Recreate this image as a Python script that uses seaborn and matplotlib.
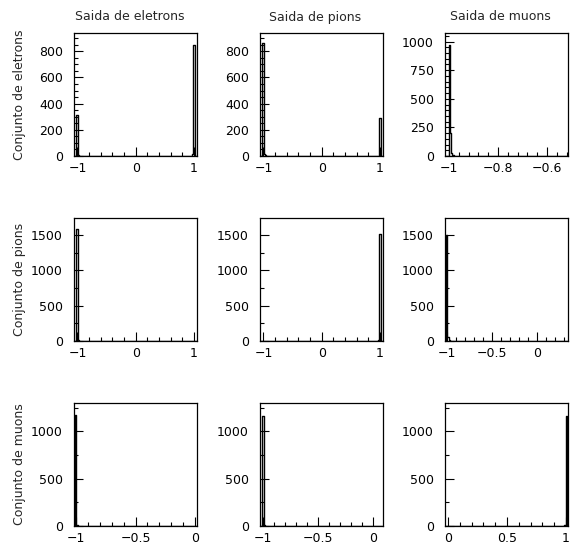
import numpy as np
import pandas as pd
import matplotlib
matplotlib.use("Agg")
import matplotlib.pyplot as plt
from matplotlib.ticker import MultipleLocator
import seaborn as sns

# ---------------- data ----------------
col_titles = ["Saida de eletrons", "Saida de pions", "Saida de muons"]
row_labels = ["Conjunto de eletrons", "Conjunto de pions", "Conjunto de muons"]

# network output values (bin positions) and entries per bin for each panel
ee_x = [-1.0, -0.98, 0.975, 1.0]
ee_n = [310, 8, 15, 845]
ep_x = [-1.0, -0.978, -0.957, 1.0]
ep_n = [860, 15, 5, 290]
em_x = [-1.0, -0.994, -0.989, -0.984, -0.979]
em_n = [970, 200, 25, 8, 3]

pe_x = [-1.0, -0.978]
pe_n = [1580, 15]
pp_x = [0.978, 1.0]
pp_n = [15, 1510]
pm_x = [-1.0, -0.987, -0.973, -0.96]
pm_n = [1500, 60, 15, 5]

me_x = [-1.0, -0.99]
me_n = [1170, 15]
mp_x = [-1.0, -0.99]
mp_n = [1160, 15]
mm_x = [0.99, 1.0]
mm_n = [10, 1160]

panel_x = [[ee_x, ep_x, em_x], [pe_x, pp_x, pm_x], [me_x, mp_x, mm_x]]
panel_n = [[ee_n, ep_n, em_n], [pe_n, pp_n, pm_n], [me_n, mp_n, mm_n]]

# histogram ranges (100 bins each)
x_ranges = [[(-1.06, 1.05), (-1.06, 1.05), (-1.016, -0.514)],
            [(-1.06, 1.05), (-1.06, 1.05), (-1.022, 0.344)],
            [(-1.017, 0.017), (-1.027, 0.09), (-0.025, 1.017)]]
y_max = [[940, 940, 1075], [1740, 1740, 1740], [1300, 1300, 1300]]
x_major = [[1.0, 1.0, 0.2], [1.0, 1.0, 0.5], [0.5, 0.5, 0.5]]
y_major = [[200, 200, 250], [500, 500, 500], [500, 500, 500]]
y_minor = [[50, 50, 50], [250, 250, 250], [250, 250, 250]]

# ---------------- style ----------------
sns.set_style("white")
plt.rcParams["font.family"] = ["DejaVu Sans"]
plt.rcParams["axes.linewidth"] = 0.9

fig = plt.figure(figsize=(5.71, 5.46), dpi=100)
W, H = 571.0, 546.0
lefts = [74, 260, 445]
tops = [33, 218, 403]
aw, ah = 123, 123

def fmt(v):
    if abs(v - round(v)) < 1e-9:
        s = str(int(round(v)))
    else:
        s = ("%.1f" % v)
    if s in ("-0", "-0.0"):
        s = "0"
    return s.replace("-", "\u2212")

for r in range(3):
    for c in range(3):
        x0, x1 = x_ranges[r][c]
        ax = fig.add_axes([lefts[c] / W, 1 - (tops[r] + ah) / H, aw / W, ah / H])
        df = pd.DataFrame({"x": panel_x[r][c], "n": panel_n[r][c]})
        sns.histplot(data=df, x="x", weights="n", bins=100,
                     binrange=(x0, x1), element="step", fill=False,
                     color="black", linewidth=1.0, ax=ax)
        ax.set_xlabel("")
        ax.set_ylabel("")
        step = x_major[r][c]
        k0 = int(np.ceil(x0 / step - 1e-9))
        k1 = int(np.floor(x1 / step + 1e-9))
        xt = [k * step for k in range(k0, k1 + 1)]
        ax.set_xticks(xt)
        ax.set_xticklabels([fmt(t) for t in xt])
        ax.xaxis.set_minor_locator(MultipleLocator(step / 5))
        yt = list(range(0, int(y_max[r][c]) + 1, y_major[r][c]))
        ax.set_yticks(yt)
        ax.set_yticklabels([str(t) for t in yt])
        ax.yaxis.set_minor_locator(MultipleLocator(y_minor[r][c]))
        ax.set_xlim(x0, x1)
        ax.set_ylim(0, y_max[r][c])
        ax.tick_params(axis="both", which="both", direction="in",
                       top=False, right=False, bottom=True, left=True,
                       colors="black", labelsize=9)
        ax.tick_params(axis="both", which="major", length=6.5, width=0.8)
        ax.tick_params(axis="both", which="minor", length=3.2, width=0.8)
        ax.tick_params(axis="x", which="major", pad=4)
        ax.tick_params(axis="y", which="major", pad=8)
        for s in ax.spines.values():
            s.set_color("black")
            s.set_linewidth(0.9)
            s.set_visible(True)
        if r == 0:
            fig.text((lefts[c] + aw / 2 - 6) / W, 1 - 17 / H, col_titles[c],
                     ha="center", va="center", fontsize=9)
        if c == 0:
            fig.text(20 / W, 1 - (tops[r] + ah / 2) / H, row_labels[r],
                     ha="center", va="center", rotation=90, fontsize=9)

fig.savefig("out.png", dpi=100)
